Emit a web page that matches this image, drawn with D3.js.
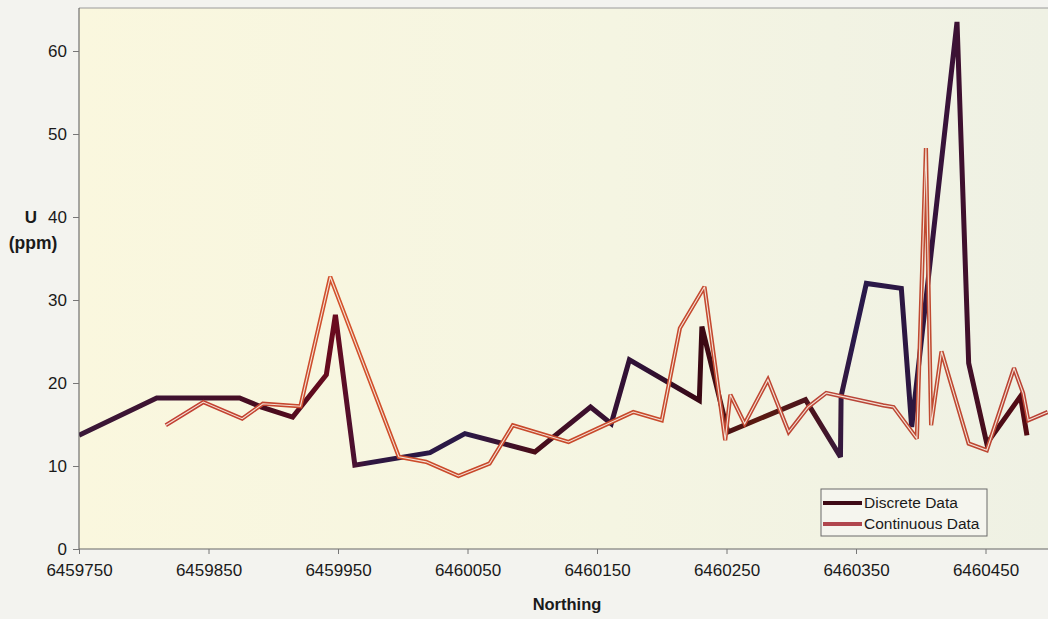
<!DOCTYPE html>
<html>
<head>
<meta charset="utf-8">
<script src="https://cdn.jsdelivr.net/npm/d3@7"></script>
<style>
  html, body { margin: 0; padding: 0; background: #f3f3ef; }
  svg { display: block; }
  text { font-family: "Liberation Sans", Arial, sans-serif; fill: #1a1a1a; }
</style>
</head>
<body>
<svg id="chart" width="1048" height="619"></svg>
<script>
// ---- Data ----
const discreteNorthing = [6459750, 6459810, 6459874, 6459891, 6459915, 6459941, 6459948, 6459963,
  6460021, 6460048, 6460102, 6460145, 6460161, 6460175, 6460229, 6460231, 6460251, 6460311,
  6460338, 6460338.5, 6460358, 6460385, 6460393, 6460428, 6460437, 6460451, 6460477, 6460482];
const discreteU = [13.7, 18.2, 18.2, 17.1, 15.9, 21.0, 28.2, 10.1,
  11.6, 13.9, 11.7, 17.1, 15.1, 22.8, 17.9, 26.8, 14.1, 18.0,
  11.1, 18.4, 32.0, 31.4, 14.7, 63.5, 22.4, 12.7, 18.4, 13.7];

const continuousNorthing = [6459817, 6459846, 6459876, 6459892, 6459921, 6459944, 6459997, 6460018,
  6460043, 6460067, 6460085, 6460128, 6460178, 6460200, 6460214, 6460233, 6460249, 6460253,
  6460264, 6460282, 6460298, 6460313, 6460327, 6460371, 6460379, 6460397, 6460404, 6460408,
  6460416, 6460437, 6460451, 6460472, 6460479, 6460483, 6460498];
const continuousU = [14.9, 17.7, 15.7, 17.5, 17.2, 32.8, 11.1, 10.5,
  8.8, 10.3, 14.9, 12.9, 16.5, 15.5, 26.6, 31.6, 13.1, 18.6,
  15.1, 20.4, 14.1, 17.1, 18.8, 17.3, 17.1, 13.3, 48.3, 14.9,
  23.8, 12.7, 11.9, 21.8, 18.8, 15.5, 16.5];

const xTickValues = [6459750, 6459850, 6459950, 6460050, 6460150, 6460250, 6460350, 6460450];
const yTickValues = [0, 10, 20, 30, 40, 50, 60];
const seriesNames = ["Discrete Data", "Continuous Data"];

// ---- Layout ----
const svg = d3.select("#chart");
const plot = { left: 79, top: 8, right: 1048, bottom: 549 };

const x = d3.scaleLinear().domain([6459750, 6460450]).range([plot.left, 985.5]);
const y = d3.scaleLinear().domain([0, 60]).range([plot.bottom, 51]);

const defs = svg.append("defs");
defs.append("clipPath").attr("id", "clip")
  .append("rect").attr("x", plot.left).attr("y", plot.top)
  .attr("width", plot.right - plot.left + 5).attr("height", plot.bottom - plot.top);

// plot background
const bg = defs.append("linearGradient").attr("id", "bgGrad")
  .attr("x1", 0).attr("x2", 1).attr("y1", 0).attr("y2", 0);
bg.append("stop").attr("offset", "0%").attr("stop-color", "#faf7de");
bg.append("stop").attr("offset", "55%").attr("stop-color", "#f5f5e2");
bg.append("stop").attr("offset", "100%").attr("stop-color", "#eff1e4");
svg.append("rect").attr("x", plot.left).attr("y", plot.top)
  .attr("width", plot.right - plot.left).attr("height", plot.bottom - plot.top)
  .attr("fill", "url(#bgGrad)");

// top border
svg.append("line").attr("x1", plot.left).attr("x2", plot.right)
  .attr("y1", plot.top).attr("y2", plot.top)
  .attr("stroke", "#9a9a9a").attr("stroke-width", 1);

// discrete colour gradient along x
const dg = defs.append("linearGradient").attr("id", "discGrad")
  .attr("gradientUnits", "userSpaceOnUse")
  .attr("x1", plot.left).attr("x2", plot.right).attr("y1", 0).attr("y2", 0);
[[0, "#3a1838"], [0.09, "#3e1230"], [0.2, "#4a0c1e"], [0.265, "#6a0a1e"], [0.3, "#2e1640"],
 [0.4, "#2a1a48"], [0.47, "#4a0c18"], [0.53, "#3a1030"], [0.58, "#2e1238"], [0.64, "#3a0814"],
 [0.7, "#5a1a10"], [0.76, "#4a1420"], [0.8, "#2a1a4c"], [0.86, "#2c1640"], [0.9, "#3a1238"],
 [0.94, "#4a0c18"], [1, "#5a0a10"]]
  .forEach(([o, c]) => dg.append("stop").attr("offset", o).attr("stop-color", c));

const cg = defs.append("linearGradient").attr("id", "contGrad")
  .attr("gradientUnits", "userSpaceOnUse")
  .attr("x1", plot.left).attr("x2", plot.right).attr("y1", 0).attr("y2", 0);
[[0, "#c03c3a"], [0.2, "#c4442e"], [0.27, "#d4522a"], [0.4, "#c8482a"], [0.6, "#c84a2c"],
 [0.8, "#b84438"], [0.88, "#c04a30"], [1, "#b84034"]]
  .forEach(([o, c]) => cg.append("stop").attr("offset", o).attr("stop-color", c));

const line = d3.line().x(d => x(d[0])).y(d => y(d[1]));
const discrete = discreteNorthing.map((n, i) => [n, discreteU[i]]);
const continuous = continuousNorthing.map((n, i) => [n, continuousU[i]]);

const g = svg.append("g").attr("clip-path", "url(#clip)");
g.append("path").datum(discrete).attr("d", line)
  .attr("fill", "none").attr("stroke", "url(#discGrad)").attr("stroke-width", 5)
  .attr("stroke-linejoin", "miter").attr("stroke-miterlimit", 3);
g.append("path").datum(continuous).attr("d", line)
  .attr("fill", "none").attr("stroke", "url(#contGrad)").attr("stroke-width", 4.2)
  .attr("stroke-linejoin", "miter").attr("stroke-miterlimit", 3);
g.append("path").datum(continuous).attr("d", line)
  .attr("fill", "none").attr("stroke", "#f4e2d6").attr("stroke-width", 1.1)
  .attr("stroke-linejoin", "miter").attr("stroke-miterlimit", 3);

// axes
const yAxis = d3.axisLeft(y).tickValues(yTickValues).tickSize(6).tickPadding(6);
const yg = svg.append("g").attr("transform", `translate(${plot.left},0)`).call(yAxis);
yg.select(".domain").attr("d", `M0,${plot.top}V${plot.bottom}`).attr("stroke", "#555");
yg.selectAll(".tick line").attr("stroke", "#777");
yg.selectAll(".tick text").style("font-size", "17px").attr("fill", "#222")
  .style("font-family", "'Liberation Sans', Arial, sans-serif");

const xAxis = d3.axisBottom(x).tickValues(xTickValues).tickFormat(d3.format("d"))
  .tickSize(5).tickPadding(10);
const xg = svg.append("g").attr("transform", `translate(0,${plot.bottom})`).call(xAxis);
xg.select(".domain").attr("d", `M${plot.left},0H${plot.right}`).attr("stroke", "#666");
xg.selectAll(".tick line").attr("stroke", "#777");
xg.selectAll(".tick text").style("font-size", "17px").attr("fill", "#222")
  .style("font-family", "'Liberation Sans', Arial, sans-serif");

// axis titles
svg.append("text").attr("x", 31).attr("y", 223).attr("text-anchor", "middle")
  .style("font-size", "17px").style("font-weight", "bold").attr("fill", "#2a2a2a").text("U");
svg.append("text").attr("x", 33).attr("y", 249).attr("text-anchor", "middle")
  .style("font-size", "17.5px").style("font-weight", "bold").attr("fill", "#2a2a2a").text("(ppm)");
svg.append("text").attr("x", 567).attr("y", 610).attr("text-anchor", "middle")
  .style("font-size", "16.5px").style("font-weight", "bold").text("Northing");

// legend
const lg = svg.append("g");
lg.append("rect").attr("x", 821).attr("y", 489).attr("width", 166).attr("height", 47)
  .attr("fill", "#f5f5ee").attr("stroke", "#6a6a6a").attr("stroke-width", 1);
const legendColors = ["#3e0a16", "#b0464e"];
seriesNames.forEach((name, i) => {
  const yy = 503 + i * 21;
  lg.append("line").attr("x1", 823).attr("x2", 862).attr("y1", yy).attr("y2", yy)
    .attr("stroke", legendColors[i]).attr("stroke-width", 4);
  lg.append("text").attr("x", 864).attr("y", yy + 5).style("font-size", "15.5px")
    .attr("fill", "#1a1a1a").text(name);
});
</script>
</body>
</html>
